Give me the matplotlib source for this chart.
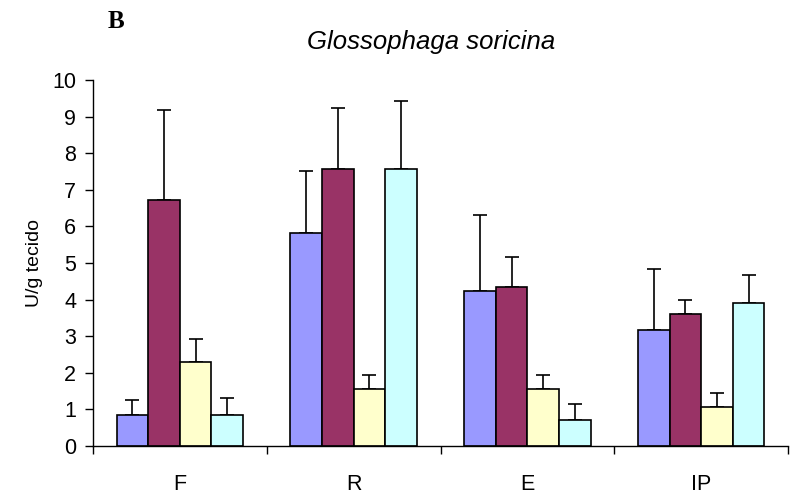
import numpy as np
import matplotlib
matplotlib.use('Agg')
import matplotlib.pyplot as plt

# Data
categories = ['F', 'R', 'E', 'IP']
colors = ['#9999FF', '#993366', '#FFFFCC', '#CCFFFF']

means = [
    [0.84, 5.81, 4.24, 3.17],
    [6.73, 7.56, 4.34, 3.61],
    [2.29, 1.57, 1.57, 1.07],
    [0.84, 7.56, 0.72, 3.91],
]
tops = [
    [1.26, 7.51, 6.31, 4.83],
    [9.19, 9.23, 5.17, 3.99],
    [2.92, 1.94, 1.94, 1.46],
    [1.32, 9.43, 1.16, 4.67],
]

plt.rcParams['font.family'] = ['Liberation Sans', 'DejaVu Sans']

fig = plt.figure(figsize=(8, 4.96), dpi=100)
ax = fig.add_axes([93 / 800, 1 - 446 / 496, (788 - 93) / 800, (446 - 80) / 496])

x = np.arange(len(categories))
w = 1 / 5.5
for i in range(4):
    pos = x + (i - 1.5) * w
    m = np.array(means[i])
    up = np.array(tops[i]) - m
    ax.bar(pos, m, width=w, color=colors[i], edgecolor='black', linewidth=1.2, zorder=2)
    ax.errorbar(pos, m, yerr=[np.zeros_like(m), up], fmt='none', ecolor='black',
                elinewidth=1.2, capsize=4.7, capthick=1.2, zorder=1)

ax.set_xlim(-0.5, 3.5)
ax.set_ylim(0, 10)
ax.set_yticks(range(0, 11))
ax.tick_params(axis='y', labelsize=15.5, length=6, width=1, direction='out', pad=6)

ax.set_xticks(np.arange(-0.5, 4, 1))
ax.set_xticklabels([])
ax.tick_params(axis='x', which='major', length=6, width=1, direction='out')
ax.set_xticks(x, minor=True)
ax.set_xticklabels(categories, minor=True)
ax.tick_params(axis='x', which='minor', length=0, labelsize=15.5, pad=20)

ax.spines['top'].set_visible(False)
ax.spines['right'].set_visible(False)
ax.spines['left'].set_linewidth(1)
ax.spines['bottom'].set_linewidth(1)

ax.set_ylabel('U/g tecido', fontsize=14, labelpad=7)

fig.text(431 / 800, 1 - 42 / 496, 'Glossophaga soricina', fontsize=18.5, style='italic',
         ha='center', va='center')
fig.text(108 / 800, 1 - 21 / 496, 'B', fontsize=18, fontweight='bold',
         family='Liberation Serif', ha='left', va='center')

fig.savefig('out.png', dpi=100)
